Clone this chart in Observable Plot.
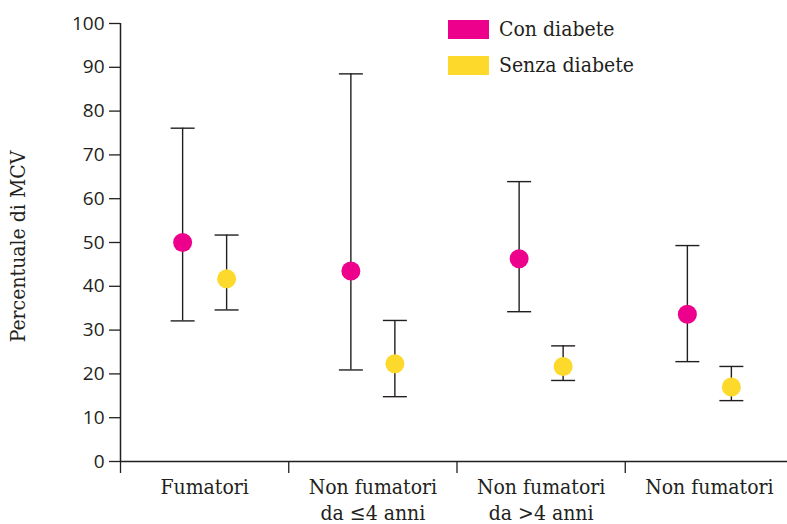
<!DOCTYPE html>
<html>
<head>
<meta charset="utf-8">
<script src="https://cdn.jsdelivr.net/npm/d3@7"></script>
<script src="https://cdn.jsdelivr.net/npm/@observablehq/plot@0.6"></script>
<style>
  html, body { margin: 0; padding: 0; background: #fff; }
  #wrap { position: relative; width: 787px; height: 524px; }
  #legend { position: absolute; left: 448px; top: 11px; font-family: "DejaVu Serif Condensed", "DejaVu Serif", serif; font-size: 21px; color: #231f20; }
  .item { display: flex; align-items: center; height: 36px; }
  .sw { width: 41px; height: 19px; margin-right: 10px; }
</style>
</head>
<body>
<div id="wrap"><div id="legend"></div></div>
<script>
const categories = ["Fumatori", "Non fumatori\nda ≤4 anni", "Non fumatori\nda >4 anni", "Non fumatori"];
const series = ["Con diabete", "Senza diabete"];
const colors = ["#ec008c", "#fcd92b"];
const conMean  = [50.0, 43.5, 46.3, 33.6];
const conLow   = [32.1, 20.9, 34.2, 22.8];
const conHigh  = [76.1, 88.5, 63.9, 49.3];
const senzaMean = [41.7, 22.3, 21.7, 17.0];
const senzaLow  = [34.6, 14.8, 18.5, 13.9];
const senzaHigh = [51.7, 32.2, 26.4, 21.7];
const yTicks = [0, 10, 20, 30, 40, 50, 60, 70, 80, 90, 100];
const yLabel = "Percentuale di MCV";

const con = categories.map((c, i) => ({i, mean: conMean[i], low: conLow[i], high: conHigh[i]}));
const senza = categories.map((c, i) => ({i, mean: senzaMean[i], low: senzaLow[i], high: senzaHigh[i]}));

const serif = "'DejaVu Serif Condensed', 'DejaVu Serif', serif";
const sans = "'Open Sans', sans-serif";
const ink = "#231f20";
const cap = {draw(ctx) { ctx.moveTo(-12, 0); ctx.lineTo(12, 0); }};
const cx = d => d.i + 0.5;

function errMarks(data, dx) {
  return [
    Plot.ruleX(data, {x: cx, y1: "low", y2: "high", dx, stroke: ink, strokeWidth: 1.4}),
    Plot.dot(data, {x: cx, y: "low", dx, symbol: cap, stroke: ink, strokeWidth: 1.4, r: 5}),
    Plot.dot(data, {x: cx, y: "high", dx, symbol: cap, stroke: ink, strokeWidth: 1.4, r: 5})
  ];
}

const chart = Plot.plot({
  width: 787,
  height: 524,
  marginLeft: 120,
  marginRight: 0,
  marginTop: 23,
  marginBottom: 63,
  style: {fontFamily: serif, fontSize: "21px", color: ink, background: "transparent"},
  x: {type: "linear", domain: [0, 4], range: [120, 793]},
  y: {domain: [0, 100]},
  marks: [
    Plot.axisY({ticks: yTicks, tickSize: 11, tickPadding: 5, fontFamily: sans, fontSize: 19, label: null, stroke: ink, strokeWidth: 1.3}),
    Plot.axisX({ticks: [0, 1, 2, 3, 4], tickSize: 12, tickFormat: () => "", label: null, stroke: ink, strokeWidth: 1.3}),
    Plot.ruleX([0], {stroke: ink, strokeWidth: 1.5}),
    Plot.ruleY([0], {stroke: ink, strokeWidth: 1.5}),
    Plot.text(categories.map((c, i) => ({c, i})), {x: cx, y: 0, text: "c", lineAnchor: "top", dy: 13, fontSize: 21, lineHeight: 1.28, fill: ink}),
    Plot.text([yLabel], {frameAnchor: "left", textAnchor: "middle", rotate: -90, dx: -102, dy: 4, fontSize: 21, fill: ink}),
    ...errMarks(con, -22),
    ...errMarks(senza, 22),
    Plot.dot(con, {x: cx, y: "mean", dx: -22, r: 9.5, fill: colors[0]}),
    Plot.dot(senza, {x: cx, y: "mean", dx: 22, r: 9.5, fill: colors[1]})
  ]
});
document.getElementById("wrap").prepend(chart);

const legend = document.getElementById("legend");
series.forEach((s, k) => {
  const row = document.createElement("div");
  row.className = "item";
  const sw = document.createElement("div");
  sw.className = "sw";
  sw.style.background = colors[k];
  const t = document.createElement("span");
  t.textContent = s;
  row.append(sw, t);
  legend.append(row);
});
</script>
</body>
</html>
